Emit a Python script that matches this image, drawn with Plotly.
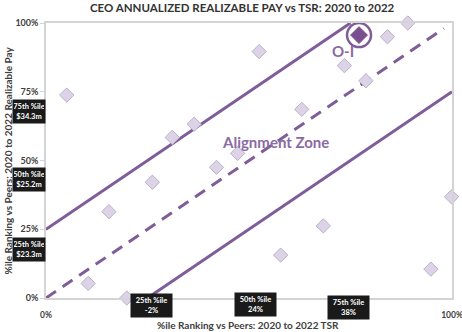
import plotly.graph_objects as go

# Peer companies: %ile rank TSR (x) vs %ile rank realizable pay (y)
peer_tsr = [5.1, 10.4, 15.5, 19.9, 26.2, 31.1, 36.5, 42.0, 47.2, 52.5,
            57.8, 63.0, 68.3, 73.5, 78.8, 84.1, 89.1, 94.8, 99.9]
peer_pay = [73.8, 5.3, 31.4, 0.0, 42.1, 58.4, 63.2, 47.5, 52.6, 89.6,
            15.6, 68.6, 26.2, 84.5, 79.0, 95.0, 100.0, 10.5, 36.8]

company = "O-I"
company_tsr = [77.1]
company_pay = [95.6]

# Alignment zone boundaries
upper_x, upper_y = [0, 75], [25, 100]
mid_x, mid_y = [0, 98], [0, 98]
lower_x, lower_y = [25, 100], [0, 75]

y_ticks = [0, 25, 50, 75, 100]
x_ticks = [0, 100]

y_pct_labels = ["75th %ile<br>$34.3m", "50th %ile<br>$25.2m", "25th %ile<br>$23.3m"]
y_pct_pos = [0.678, 0.431, 0.176]
x_pct_labels = ["25th %ile<br>-2%", "50th %ile<br>24%", "75th %ile<br>38%"]
x_pct_pos = [0.260, 0.517, 0.746]
x_pct_ypos = [-0.029, -0.024, -0.036]

PURPLE = "#7f5d99"
FONT = "Lato"

fig = go.Figure()

fig.add_trace(go.Scatter(x=upper_x, y=upper_y, mode="lines",
                         line=dict(color=PURPLE, width=3), hoverinfo="skip"))
fig.add_trace(go.Scatter(x=mid_x, y=mid_y, mode="lines",
                         line=dict(color=PURPLE, width=3, dash="12px,8px"), hoverinfo="skip"))
fig.add_trace(go.Scatter(x=lower_x, y=lower_y, mode="lines",
                         line=dict(color=PURPLE, width=3), hoverinfo="skip"))

fig.add_trace(go.Scatter(x=peer_tsr, y=peer_pay, mode="markers", cliponaxis=False,
                         marker=dict(symbol="diamond", size=11, color="#dcd3e6",
                                     line=dict(color="#bcb1c9", width=1))))

fig.add_trace(go.Scatter(x=company_tsr, y=company_pay, mode="markers", cliponaxis=False,
                         marker=dict(symbol="circle-open", size=24, color=PURPLE,
                                     line=dict(color=PURPLE, width=2.5))))
fig.add_trace(go.Scatter(x=company_tsr, y=company_pay, mode="markers", cliponaxis=False,
                         marker=dict(symbol="diamond", size=13, color="#7a4f8f",
                                     line=dict(color="#7a4f8f", width=1))))

C = dict(xanchor="center", yanchor="middle", showarrow=False)

annotations = []
annotations.append(dict(x=company_tsr[0] - 3.9, y=company_pay[0] - 5.8, xref="x", yref="y",
                        text="<b>" + company + "</b>", **C,
                        font=dict(family=FONT, size=15, color="#8a6aa3")))
annotations.append(dict(x=56.6, y=56.8, xref="x", yref="y",
                        text="<b>Alignment Zone</b>", **C,
                        font=dict(family=FONT, size=15, color="#8a6aa3")))

for lab, yp in zip(y_pct_labels, y_pct_pos):
    annotations.append(dict(x=-0.042, y=yp, xref="paper", yref="paper", text="<b>" + lab + "</b>",
                            **C, bgcolor="#1a1a1a", width=30, height=21,
                            font=dict(family=FONT, size=7.5, color="white")))
for lab, xp, yp in zip(x_pct_labels, x_pct_pos, x_pct_ypos):
    annotations.append(dict(x=xp, y=yp, xref="paper", yref="paper", text="<b>" + lab + "</b>",
                            **C, bgcolor="#1a1a1a", width=39, height=21,
                            font=dict(family=FONT, size=7.5, color="white")))

annotations.append(dict(x=0.483, y=1.055, xref="paper", yref="paper",
                        text="<b>CEO ANNUALIZED REALIZABLE PAY vs TSR: 2020 to 2022</b>",
                        **C, font=dict(family=FONT, size=11.5, color="#333333")))
annotations.append(dict(x=0.497, y=-0.097, xref="paper", yref="paper",
                        text="<b>%ile Ranking vs Peers: 2020 to 2022 TSR</b>",
                        **C, font=dict(family=FONT, size=10, color="#404040")))
annotations.append(dict(x=-0.096, y=0.50, xref="paper", yref="paper", textangle=-90,
                        text="<b>%ile Ranking vs Peers: 2020 to 2022 Realizable Pay</b>",
                        **C, font=dict(family=FONT, size=10, color="#404040")))

fig.update_layout(
    width=462, height=332,
    margin=dict(l=46, r=10, t=23, b=34),
    paper_bgcolor="white", plot_bgcolor="white",
    showlegend=False,
    annotations=annotations,
    font=dict(family=FONT),
)
fig.update_xaxes(range=[0, 100], tickvals=x_ticks, ticktext=[f"<b>{v}%</b>" for v in x_ticks],
                 showgrid=False, zeroline=False, showline=True, mirror=True,
                 linecolor="#d4d4d4", linewidth=1.5, ticklabelstandoff=8,
                 ticklabeloverflow="allow", automargin=False,
                 tickfont=dict(family=FONT, size=8.5, color="#404040"))
fig.update_yaxes(range=[0, 100], tickvals=y_ticks, ticktext=[f"<b>{v}%</b>" for v in y_ticks],
                 showgrid=False, zeroline=False, showline=True, mirror=True,
                 linecolor="#d4d4d4", linewidth=1.5, ticks="outside", ticklen=4,
                 tickcolor="#d4d4d4", ticklabeloverflow="allow", automargin=False,
                 tickfont=dict(family=FONT, size=9, color="#404040"))

fig.write_html("out.html")
